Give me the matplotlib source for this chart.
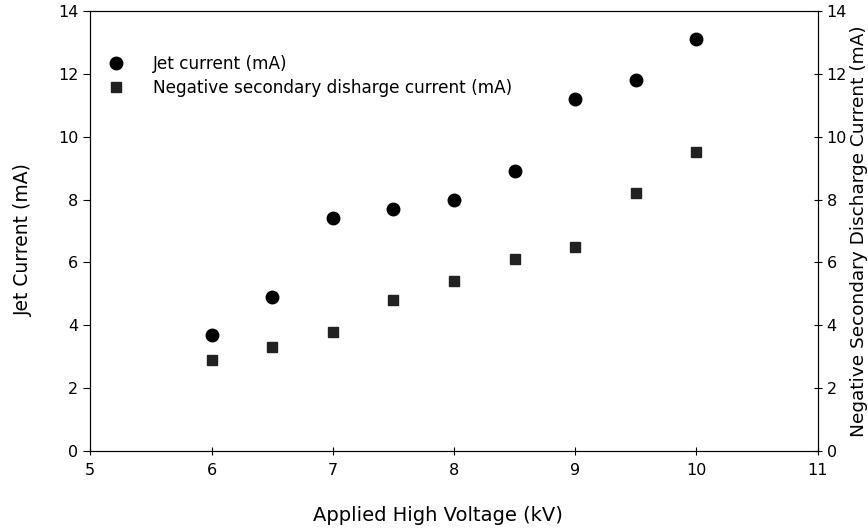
import matplotlib
matplotlib.use("Agg")
import matplotlib.pyplot as plt

plt.rcParams['font.family'] = ['DejaVu Sans']

voltage = [6, 6.5, 7, 7.5, 8, 8.5, 9, 9.5, 10]
jet_current = [3.7, 4.9, 7.4, 7.7, 8.0, 8.9, 11.2, 11.8, 13.1]
secondary_current = [2.9, 3.3, 3.8, 4.8, 5.4, 6.1, 6.5, 8.2, 9.5]

fig = plt.figure(figsize=(8.68, 5.28), dpi=100)
ax = fig.add_axes([0.104, 0.146, 0.838, 0.833])
ax2 = ax.twinx()

h1, = ax.plot(voltage, jet_current, 'o', color='black', markersize=9,
              label='Jet current (mA)')
h2, = ax2.plot(voltage, secondary_current, 's', color='#222222', markersize=7.5,
               label='Negative secondary disharge current (mA)')

ax.set_xlim(5, 11)
ax.set_ylim(0, 14)
ax2.set_ylim(0, 14)
ax.set_xticks(range(5, 12))
ax.set_yticks(range(0, 15, 2))
ax2.set_yticks(range(0, 15, 2))

ax.tick_params(axis='x', direction='inout', length=6, labelsize=11.5, pad=6)
ax.tick_params(axis='y', direction='out', length=5, labelsize=11.5)
ax2.tick_params(axis='y', direction='inout', length=6, labelsize=11.5)

ax.set_xlabel('Applied High Voltage (kV)', fontsize=14, labelpad=20, x=0.478)
ax.set_ylabel('Jet Current (mA)', fontsize=13.5, labelpad=18, y=0.48)
ax2.set_ylabel('Negative Secondary Discharge Current (mA)', fontsize=13.3, labelpad=2)

ax.legend(handles=[h1, h2], loc='upper left', frameon=False, fontsize=12.2,
          bbox_to_anchor=(0.0, 0.935), handlelength=1.2, handletextpad=1.6,
          labelspacing=0.35)

fig.savefig('out.png', dpi=100)
